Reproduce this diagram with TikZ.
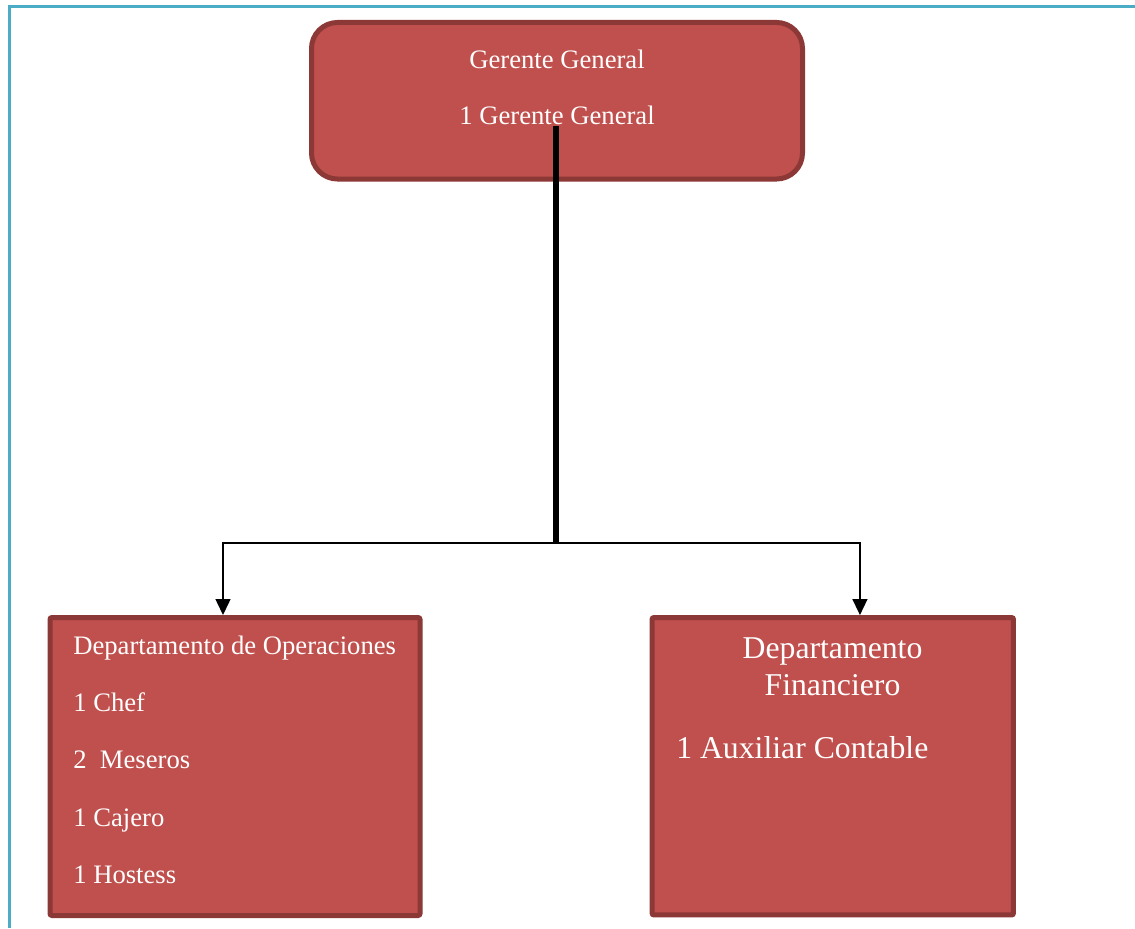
\documentclass[tikz,border=0pt]{standalone}
\usepackage{fontspec}
\setmainfont{Liberation Serif}
\usetikzlibrary{arrows.meta,positioning}

\definecolor{boxfill}{HTML}{C0504D}
\definecolor{boxedge}{HTML}{8C3836}
\definecolor{frameblue}{HTML}{4BACC6}

\tikzset{
  unitbox/.style={draw=boxedge, fill=boxfill, line width=3.75pt, inner sep=0pt},
  headbox/.style={unitbox, rounded corners=19.5pt},
  deptbox/.style={unitbox, rounded corners=1.5pt},
  lbl/.style={text=white, inner sep=0pt, font=\fontsize{20pt}{24pt}\selectfont},
  biglbl/.style={text=white, inner sep=0pt, font=\fontsize{23.8pt}{28pt}\selectfont},
  trunk/.style={line width=4.1pt, black},
  branch/.style={line width=1.1pt, black, -{Triangle[width=11.25pt,length=12pt]}},
  frame/.style={draw=frameblue, line width=2.25pt}
}

\begin{document}
\begin{tikzpicture}[x=0.75pt, y=-0.75pt]
  \useasboundingbox (0,0) rectangle (1135,928);

  % page frame
  \draw[frame] (9.5,928) -- (9.5,6.5) -- (1135,6.5);

  % boxes
  \node[headbox, minimum width=368.25pt, minimum height=117.4pt] (gm) at (557,100.75) {};
  \node[deptbox, minimum width=277.5pt, minimum height=223.5pt] (ops) at (235,766.5) {};
  \node[deptbox, minimum width=271.1pt, minimum height=223.1pt] (fin) at (832.75,766.25) {};

  % general manager texts
  \node[lbl, anchor=base] (gmtitle) at (557,68) {Gerente General};
  \node[lbl, anchor=base] (gmcount) at (557,124) {1 Gerente General};

  % operations department texts
  \node[lbl, anchor=base west] (opstitle) at (73,654) {Departamento de Operaciones};
  \node[lbl, anchor=base west] (opschef) at (73,711) {1 Chef};
  \node[lbl, anchor=base west] (opswait) at (73,768) {2~~Meseros};
  \node[lbl, anchor=base west] (opscash) at (73,826) {1 Cajero};
  \node[lbl, anchor=base west] (opshost) at (73,883) {1 Hostess};

  % finance department texts
  \node[biglbl, anchor=base] (fintitlea) at (832.5,658) {Departamento};
  \node[biglbl, anchor=base] (fintitleb) at (832.5,695) {Financiero};
  \node[biglbl, anchor=base west] (finaux) at (676,758) {1 Auxiliar Contable};

  % connectors
  \coordinate (trunktop) at (556,126);
  \coordinate (split) at (556,543);
  \draw[branch] (split) -| ([xshift=-9pt]ops.north);
  \draw[branch] (split) -| ([xshift=20.4pt]fin.north);
  \draw[trunk] (trunktop) -- (split);
\end{tikzpicture}
\end{document}
